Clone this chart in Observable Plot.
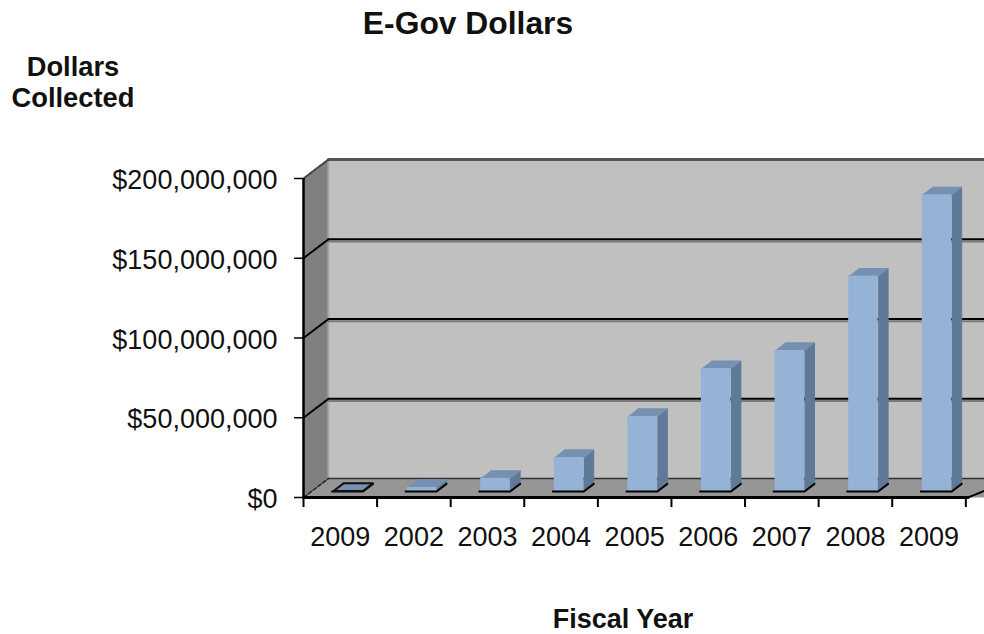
<!DOCTYPE html>
<html>
<head>
<meta charset="utf-8">
<script src="https://cdn.jsdelivr.net/npm/d3@7"></script>
<script src="https://cdn.jsdelivr.net/npm/@observablehq/plot@0.6"></script>
<style>
  html, body { margin: 0; padding: 0; background: #fff; overflow: hidden; }
  body { width: 984px; height: 634px; font-family: "Liberation Sans", Arial, sans-serif; color: #111; }
  .head { position: relative; height: 150px; }
  .head div, .foot div { position: absolute; font-weight: bold; white-space: nowrap; transform: translate(-50%, -50%); }
  .title { left: 468px; top: 23px; font-size: 31.8px; }
  .ylab { left: 73px; font-size: 27.3px; }
  .foot { position: relative; height: 34px; }
  .xlab { left: 623px; top: 19px; font-size: 27px; }
</style>
</head>
<body>
<div class="head">
  <div class="title">E-Gov Dollars</div>
  <div class="ylab" style="top:67px">Dollars</div>
  <div class="ylab" style="top:98px">Collected</div>
</div>
<div id="chart"></div>
<div class="foot"><div class="xlab">Fiscal Year</div></div>
<script>
// Fiscal years along the axis and dollars collected in each
const years = ["2009", "2002", "2003", "2004", "2005", "2006", "2007", "2008", "2009"];
const dollars = [300000, 2500000, 8200000, 21300000, 47000000, 77000000, 88400000, 135000000, 186000000];
const yTicks = [0, 50000000, 100000000, 150000000, 200000000];

// Oblique projection of the 3D box: full depth expressed in scale units
const depthX = 0.339;
const depthY = 11900000;
const xMax = 9.254;
const xFloor = 9.03;
const yMax = 200000000;
const tickLengthX = 6300000;
const tickLengthY = 0.122;
const barInset = 0.3;
const barWidth = 0.4;
const barFront = 0.32;
const barBack = 0.72;

const pt = (x, y, d = 0) => ({x: x + d * depthX, y: y + d * depthY});

// Closed polygon mark built from projected corners
const poly = (points, fill, extra = {}) =>
  Plot.line(points, {x: "x", y: "y", fill, stroke: "none", ...extra});
const edge = (points, stroke, strokeWidth, extra = {}) =>
  Plot.line(points, {x: "x", y: "y", stroke, strokeWidth, ...extra});

const bars = dollars.map((value, i) => ({
  value,
  x1: i + barInset + barFront * depthX,
  x2: i + barInset + barFront * depthX + barWidth,
  y1: barFront * depthY,
  y2: barFront * depthY + value
}));
const dd = (barBack - barFront);

const sideFaces = bars.flatMap((b, i) => [
  {k: i, x: b.x2, y: b.y1},
  {k: i, x: b.x2 + dd * depthX, y: b.y1 + dd * depthY},
  {k: i, x: b.x2 + dd * depthX, y: b.y2 + dd * depthY},
  {k: i, x: b.x2, y: b.y2}
]);
const topFaces = bars.flatMap((b, i) => [
  {k: i, x: b.x1, y: b.y2},
  {k: i, x: b.x2, y: b.y2},
  {k: i, x: b.x2 + dd * depthX, y: b.y2 + dd * depthY},
  {k: i, x: b.x1 + dd * depthX, y: b.y2 + dd * depthY}
]);
const baseLines = bars.flatMap((b, i) => [
  {k: i, x: b.x1 - 0.02, y: b.y1},
  {k: i, x: b.x2, y: b.y1},
  {k: i, x: b.x2 + dd * depthX, y: b.y1 + dd * depthY}
]);

const leftWall = [pt(0, 0), pt(0, yMax), pt(0, yMax, 1), pt(0, 0, 1)];
const backWall = [pt(0, 0, 1), pt(0, yMax, 1), pt(xMax, yMax, 1), pt(xMax, 0, 1)];
const floor = [pt(0, 0), pt(0, 0, 1), pt(xMax, 0, 1), pt(xMax, 0), pt(xFloor, 0)];

const gridValues = yTicks.slice(1, 4);

const chart = Plot.plot({
  width: 984,
  height: 450,
  marginTop: 28,
  marginBottom: 103,
  marginLeft: 303,
  marginRight: 0,
  style: {fontFamily: "'Liberation Sans', Arial, sans-serif", fontSize: "27px", color: "#111", background: "#fff", overflow: "hidden"},
  x: {type: "linear", domain: [0, xMax], range: [303, 984]},
  y: {type: "linear", domain: [0, yMax], range: [347, 28]},
  marks: [
    // Box walls and floor
    poly(leftWall, "#808080"),
    poly(backWall, "#c0c0c0"),
    poly(floor, "#969696"),
    edge([pt(0, yMax, 1), pt(0, 0, 1)], "#a8a8a8", 2),

    // Gridlines on the back wall, with their grey shadow, and slanted on the left wall
    ...gridValues.map(v => edge([pt(0, v - 1400000, 1), pt(xMax, v - 1400000, 1)], "#7a7a7a", 2)),
    ...gridValues.map(v => edge([pt(0, v, 1), pt(xMax, v, 1)], "#000", 2)),
    ...gridValues.map(v => edge([pt(0, v), pt(0, v, 1)], "#000", 2, {strokeDasharray: "4,1"})),

    // Upper and lower edges of the box
    edge([pt(0, yMax, 1), pt(xMax, yMax, 1)], "#555", 3),
    edge([pt(0, 0, 1), pt(xMax, 0, 1)], "#333", 1.5),
    edge([pt(0, yMax), pt(0, yMax, 1)], "#444", 2, {strokeDasharray: "3,1"}),
    edge([pt(0, 0), pt(0, 0, 1)], "#222", 1.5, {strokeDasharray: "4,2"}),
    edge([pt(xFloor, 0), pt(xMax, 0, 0.75)], "#000", 2, {strokeDasharray: "4,1"}),

    // 3D columns: side and top faces behind the front face
    poly(sideFaces, "#5f7a99", {z: "k", stroke: "#5f7a99", strokeWidth: 1}),
    poly(topFaces, "#7590b0", {z: "k", stroke: "#7590b0", strokeWidth: 1}),
    Plot.rect(bars, {x1: "x1", x2: "x2", y1: "y1", y2: "y2", fill: "#95b3d7"}),
    edge(baseLines, "#000", 2, {z: "k"}),
    // The smallest column is little more than an outlined slab
    edge([topFaces[0], topFaces[1], topFaces[2], topFaces[3], topFaces[0]], "#111", 2),

    // Axes
    Plot.ruleX([0], {y1: 0, y2: yMax, stroke: "#000", strokeWidth: 2.5}),
    edge([pt(0, 0), pt(xFloor, 0)], "#000", 3),
    Plot.ruleY(yTicks, {x1: -tickLengthY, x2: 0, stroke: "#000", strokeWidth: 1.5}),
    Plot.axisY({
      ticks: yTicks,
      tickFormat: d => "$" + d3.format(",")(d),
      tickSize: 0,
      tickPadding: 26,
      dy: 2,
      label: null,
      fill: "#111"
    }),
    Plot.ruleX(d3.range(0, 10), {y1: 0, y2: -tickLengthX, stroke: "#000", strokeWidth: 2}),
    Plot.axisX({
      ticks: years.map((_, i) => i + 0.5),
      tickFormat: d => years[d - 0.5],
      tickSize: 0,
      tickPadding: 29,
      label: null,
      fill: "#111"
    })
  ]
});
document.getElementById("chart").append(chart);
</script>
</body>
</html>
